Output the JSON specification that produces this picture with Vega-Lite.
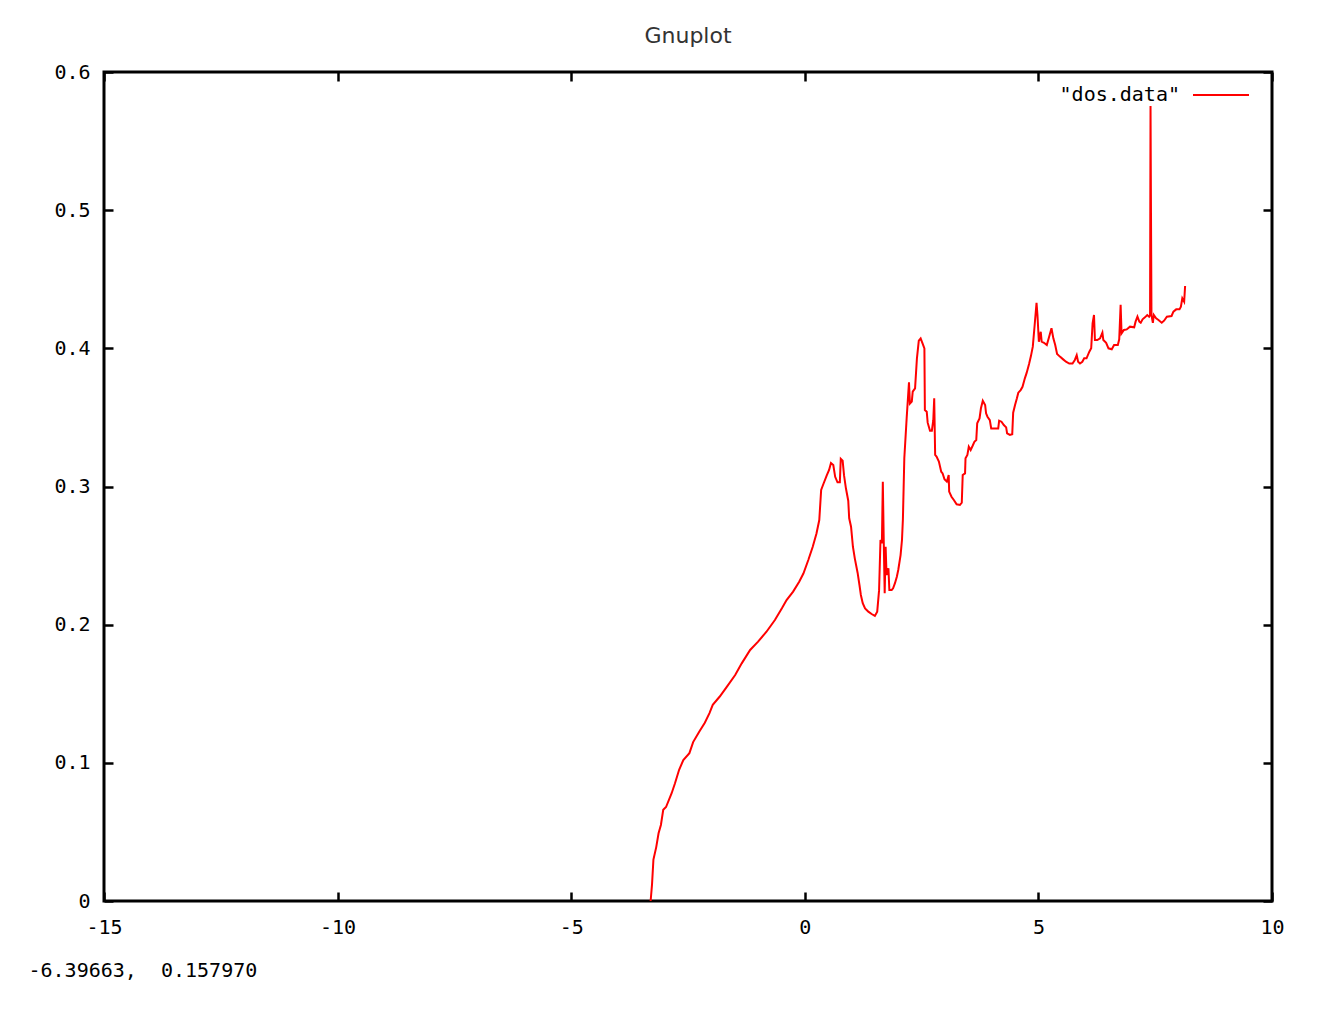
{
  "$schema": "https://vega.github.io/schema/vega-lite/v6.json",
  "width": 1168,
  "height": 829,
  "autosize": {"type": "none"},
  "padding": {"left": 104, "top": 72, "right": 64, "bottom": 125},
  "background": "white",
  "title": {"text": "Gnuplot", "anchor": "middle", "font": "DejaVu Sans", "fontSize": 22, "fontWeight": "normal", "color": "#333333", "baseline": "middle", "offset": 4},
  "data": {"values": [
    {"x": -3.30, "y": 0}, {"x": -3.27, "y": 0.012}, {"x": -3.24, "y": 0.030}, {"x": -3.18, "y": 0.039},
    {"x": -3.13, "y": 0.049}, {"x": -3.08, "y": 0.055}, {"x": -3.03, "y": 0.066}, {"x": -2.97, "y": 0.068},
    {"x": -2.85, "y": 0.078}, {"x": -2.78, "y": 0.085}, {"x": -2.69, "y": 0.095}, {"x": -2.60, "y": 0.102},
    {"x": -2.47, "y": 0.107}, {"x": -2.39, "y": 0.115}, {"x": -2.26, "y": 0.1225}, {"x": -2.14, "y": 0.129},
    {"x": -2.04, "y": 0.136}, {"x": -1.97, "y": 0.142}, {"x": -1.82, "y": 0.148}, {"x": -1.67, "y": 0.155},
    {"x": -1.49, "y": 0.1636}, {"x": -1.35, "y": 0.172}, {"x": -1.17, "y": 0.1817}, {"x": -1.00, "y": 0.1877},
    {"x": -0.82, "y": 0.1949}, {"x": -0.64, "y": 0.2034}, {"x": -0.49, "y": 0.2118}, {"x": -0.39, "y": 0.2178},
    {"x": -0.25, "y": 0.2239}, {"x": -0.12, "y": 0.2311}, {"x": -0.03, "y": 0.237}, {"x": 0.075, "y": 0.2468},
    {"x": 0.17, "y": 0.2564}, {"x": 0.25, "y": 0.266}, {"x": 0.31, "y": 0.2757}, {"x": 0.35, "y": 0.2975},
    {"x": 0.40, "y": 0.302}, {"x": 0.47, "y": 0.308}, {"x": 0.52, "y": 0.312}, {"x": 0.56, "y": 0.317},
    {"x": 0.61, "y": 0.3155}, {"x": 0.65, "y": 0.307}, {"x": 0.70, "y": 0.303}, {"x": 0.75, "y": 0.303},
    {"x": 0.77, "y": 0.320}, {"x": 0.81, "y": 0.3187}, {"x": 0.84, "y": 0.308}, {"x": 0.88, "y": 0.2987},
    {"x": 0.93, "y": 0.2897}, {"x": 0.95, "y": 0.277}, {"x": 0.99, "y": 0.2709}, {"x": 1.03, "y": 0.2564},
    {"x": 1.07, "y": 0.248}, {"x": 1.13, "y": 0.2376}, {"x": 1.17, "y": 0.2287}, {"x": 1.20, "y": 0.2215},
    {"x": 1.24, "y": 0.2155}, {"x": 1.29, "y": 0.2118}, {"x": 1.36, "y": 0.2094}, {"x": 1.43, "y": 0.2077},
    {"x": 1.50, "y": 0.2063}, {"x": 1.55, "y": 0.2094}, {"x": 1.59, "y": 0.225}, {"x": 1.62, "y": 0.2613},
    {"x": 1.65, "y": 0.259}, {"x": 1.67, "y": 0.3035}, {"x": 1.69, "y": 0.26}, {"x": 1.71, "y": 0.2227},
    {"x": 1.73, "y": 0.2564}, {"x": 1.75, "y": 0.236}, {"x": 1.77, "y": 0.238}, {"x": 1.79, "y": 0.2408},
    {"x": 1.81, "y": 0.2251}, {"x": 1.86, "y": 0.2251}, {"x": 1.89, "y": 0.2263}, {"x": 1.93, "y": 0.23},
    {"x": 1.97, "y": 0.2347}, {"x": 2.00, "y": 0.2396}, {"x": 2.05, "y": 0.2504}, {"x": 2.08, "y": 0.2613},
    {"x": 2.10, "y": 0.2765}, {"x": 2.13, "y": 0.3204}, {"x": 2.18, "y": 0.3493}, {"x": 2.23, "y": 0.3754},
    {"x": 2.25, "y": 0.360}, {"x": 2.29, "y": 0.3614}, {"x": 2.31, "y": 0.3686}, {"x": 2.36, "y": 0.371},
    {"x": 2.40, "y": 0.3928}, {"x": 2.44, "y": 0.4055}, {"x": 2.48, "y": 0.4072}, {"x": 2.52, "y": 0.4036},
    {"x": 2.56, "y": 0.40}, {"x": 2.57, "y": 0.3554}, {"x": 2.61, "y": 0.3541}, {"x": 2.63, "y": 0.3462},
    {"x": 2.68, "y": 0.3404}, {"x": 2.72, "y": 0.3404}, {"x": 2.75, "y": 0.348}, {"x": 2.77, "y": 0.3638},
    {"x": 2.79, "y": 0.3228}, {"x": 2.82, "y": 0.3216}, {"x": 2.87, "y": 0.318}, {"x": 2.92, "y": 0.3107},
    {"x": 2.95, "y": 0.3095}, {"x": 2.99, "y": 0.3052}, {"x": 3.04, "y": 0.3035}, {"x": 3.08, "y": 0.3083},
    {"x": 3.09, "y": 0.2963}, {"x": 3.14, "y": 0.2926}, {"x": 3.19, "y": 0.2902}, {"x": 3.25, "y": 0.2871},
    {"x": 3.32, "y": 0.2866}, {"x": 3.36, "y": 0.2883}, {"x": 3.38, "y": 0.3083}, {"x": 3.43, "y": 0.3095},
    {"x": 3.44, "y": 0.3204}, {"x": 3.48, "y": 0.3228}, {"x": 3.51, "y": 0.3288}, {"x": 3.55, "y": 0.3264},
    {"x": 3.59, "y": 0.3293}, {"x": 3.63, "y": 0.3324}, {"x": 3.67, "y": 0.3337}, {"x": 3.69, "y": 0.3457},
    {"x": 3.74, "y": 0.3493}, {"x": 3.77, "y": 0.3566}, {"x": 3.81, "y": 0.3621}, {"x": 3.86, "y": 0.359},
    {"x": 3.88, "y": 0.353}, {"x": 3.91, "y": 0.3505}, {"x": 3.96, "y": 0.348}, {"x": 3.99, "y": 0.342},
    {"x": 4.07, "y": 0.342}, {"x": 4.14, "y": 0.342}, {"x": 4.16, "y": 0.3476}, {"x": 4.21, "y": 0.3469},
    {"x": 4.26, "y": 0.3445}, {"x": 4.31, "y": 0.3428}, {"x": 4.33, "y": 0.3385}, {"x": 4.39, "y": 0.3373},
    {"x": 4.44, "y": 0.3378}, {"x": 4.46, "y": 0.3534}, {"x": 4.50, "y": 0.359}, {"x": 4.54, "y": 0.3638},
    {"x": 4.57, "y": 0.3679}, {"x": 4.62, "y": 0.3698}, {"x": 4.66, "y": 0.3722}, {"x": 4.71, "y": 0.3783},
    {"x": 4.75, "y": 0.3824}, {"x": 4.80, "y": 0.3886}, {"x": 4.84, "y": 0.3944}, {"x": 4.88, "y": 0.4012},
    {"x": 4.92, "y": 0.4169}, {"x": 4.96, "y": 0.433}, {"x": 4.98, "y": 0.4241}, {"x": 5.01, "y": 0.4048},
    {"x": 5.05, "y": 0.412}, {"x": 5.07, "y": 0.4048}, {"x": 5.12, "y": 0.404}, {"x": 5.18, "y": 0.4024},
    {"x": 5.23, "y": 0.4084}, {"x": 5.28, "y": 0.4145}, {"x": 5.32, "y": 0.4072}, {"x": 5.36, "y": 0.4024},
    {"x": 5.40, "y": 0.3959}, {"x": 5.46, "y": 0.394}, {"x": 5.53, "y": 0.392}, {"x": 5.59, "y": 0.3903},
    {"x": 5.66, "y": 0.389}, {"x": 5.73, "y": 0.389}, {"x": 5.78, "y": 0.3916}, {"x": 5.82, "y": 0.395},
    {"x": 5.85, "y": 0.3903}, {"x": 5.89, "y": 0.389}, {"x": 5.94, "y": 0.3903}, {"x": 5.98, "y": 0.3928},
    {"x": 6.03, "y": 0.3928}, {"x": 6.09, "y": 0.3976}, {"x": 6.13, "y": 0.40}, {"x": 6.16, "y": 0.418},
    {"x": 6.19, "y": 0.4241}, {"x": 6.21, "y": 0.406}, {"x": 6.26, "y": 0.406}, {"x": 6.32, "y": 0.4072},
    {"x": 6.37, "y": 0.4113}, {"x": 6.39, "y": 0.406}, {"x": 6.45, "y": 0.404}, {"x": 6.50, "y": 0.40},
    {"x": 6.57, "y": 0.3993}, {"x": 6.62, "y": 0.4024}, {"x": 6.70, "y": 0.4024}, {"x": 6.73, "y": 0.4065},
    {"x": 6.76, "y": 0.4315}, {"x": 6.78, "y": 0.4108}, {"x": 6.83, "y": 0.4133}, {"x": 6.89, "y": 0.4137},
    {"x": 6.96, "y": 0.4157}, {"x": 7.05, "y": 0.4152}, {"x": 7.08, "y": 0.4193}, {"x": 7.12, "y": 0.4229},
    {"x": 7.16, "y": 0.4193}, {"x": 7.19, "y": 0.4185}, {"x": 7.23, "y": 0.421}, {"x": 7.28, "y": 0.4224},
    {"x": 7.33, "y": 0.4241}, {"x": 7.37, "y": 0.4229}, {"x": 7.39, "y": 0.424}, {"x": 7.40, "y": 0.5754},
    {"x": 7.41, "y": 0.4977}, {"x": 7.42, "y": 0.424}, {"x": 7.45, "y": 0.4185}, {"x": 7.47, "y": 0.4241},
    {"x": 7.52, "y": 0.4217}, {"x": 7.57, "y": 0.4205}, {"x": 7.64, "y": 0.4185}, {"x": 7.69, "y": 0.42},
    {"x": 7.75, "y": 0.4229}, {"x": 7.85, "y": 0.4234}, {"x": 7.89, "y": 0.4265}, {"x": 7.95, "y": 0.4282},
    {"x": 8.02, "y": 0.4282}, {"x": 8.05, "y": 0.4301}, {"x": 8.08, "y": 0.4362}, {"x": 8.12, "y": 0.4337},
    {"x": 8.14, "y": 0.4451}
  ]},
  "layer": [
    {
      "mark": {"type": "line", "strokeWidth": 2, "clip": true},
      "encoding": {
        "x": {"field": "x", "type": "quantitative",
              "scale": {"domain": [-15, 10], "nice": false, "zero": false},
              "axis": {"orient": "bottom", "values": [-15, -10, -5, 0, 5, 10], "labelPadding": 25,
                       "labelExpr": "replace(datum.label, '\u2212', '-')",
                       "title": "-6.39663,\u00a0\u00a00.157970", "titleX": -76, "titleY": 69, "titleAlign": "left",
                       "titleAnchor": null, "titleBaseline": "middle", "titleFont": "DejaVu Sans Mono",
                       "titleFontSize": 20, "titleFontWeight": "normal", "titleColor": "black"}},
        "y": {"field": "y", "type": "quantitative",
              "scale": {"domain": [0, 0.6], "nice": false, "zero": false},
              "axis": {"orient": "left", "values": [0, 0.1, 0.2, 0.3, 0.4, 0.5, 0.6], "labelPadding": 23,
                       "format": "~g", "title": null}},
        "color": {"datum": "\"dos.data\"", "type": "nominal",
                  "scale": {"range": ["#ff0000"]},
                  "legend": {"title": null, "orient": "none", "legendX": 1088, "legendY": -6,
                             "symbolType": "stroke", "symbolSize": 3136, "symbolStrokeWidth": 2,
                             "labelAlign": "right", "labelOffset": -70, "labelFont": "DejaVu Sans Mono",
                             "labelFontSize": 20, "labelColor": "black", "padding": 0}}
      }
    },
    {
      "mark": {"type": "line", "opacity": 0},
      "encoding": {
        "x": {"field": "x", "type": "quantitative",
              "axis": {"orient": "top", "values": [-15, -10, -5, 0, 5, 10], "labels": false, "title": null}},
        "y": {"field": "y", "type": "quantitative",
              "axis": {"orient": "right", "values": [0, 0.1, 0.2, 0.3, 0.4, 0.5, 0.6], "labels": false, "title": null}}
      }
    }
  ],
  "resolve": {"axis": {"x": "independent", "y": "independent"}},
  "config": {
    "view": {"stroke": "black", "strokeWidth": 3},
    "axis": {"domain": false, "grid": false, "ticks": true, "tickColor": "black", "tickWidth": 2.5, "tickSize": -9,
             "labelFont": "DejaVu Sans Mono", "labelFontSize": 20, "labelColor": "black",
             "labelFlush": false, "labelOverlap": false, "labelBound": false}
  }
}
